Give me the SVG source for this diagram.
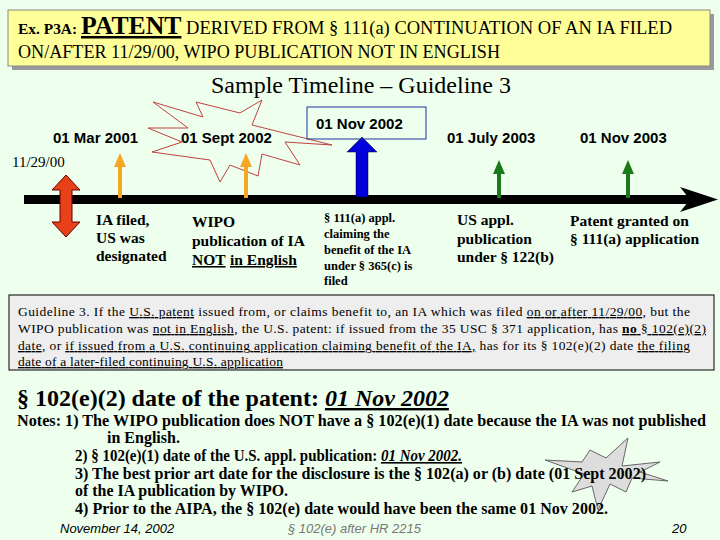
<svg xmlns="http://www.w3.org/2000/svg" width="720" height="540" viewBox="0 0 720 540">
<style>
.d{font-family:"Liberation Sans",Arial,sans-serif;font-weight:bold;font-size:15px;fill:#000}
.r{font-family:"Liberation Serif","Times New Roman",serif;fill:#000}
.l{font-family:"Liberation Serif","Times New Roman",serif;font-weight:bold;font-size:15.5px;fill:#000}
.s{font-family:"Liberation Serif","Times New Roman",serif;font-weight:bold;font-size:12.5px;fill:#000}
.g{font-family:"Liberation Serif","Times New Roman",serif;font-size:13.5px;fill:#000}
.n{font-family:"Liberation Serif","Times New Roman",serif;font-weight:bold;font-size:16px;fill:#000}
.f{font-family:"Liberation Sans",Arial,sans-serif;font-style:italic;font-size:13px}
</style>
<rect width="720" height="540" fill="#EEFFEE"/>
<g id="title">
<rect x="12" y="14" width="702" height="56" fill="#999"/>
<rect x="8" y="10" width="702" height="56" fill="#FFFF99" stroke="#888"/>
<text class="r" x="18" y="34" font-size="18" textLength="654" lengthAdjust="spacingAndGlyphs"><tspan font-weight="bold" font-size="15">Ex. P3A: </tspan><tspan font-weight="bold" font-size="25" text-decoration="underline">PATENT</tspan> DERIVED FROM § 111(a) CONTINUATION OF AN IA FILED</text>
<text class="r" x="18" y="58" font-size="18" textLength="482" lengthAdjust="spacingAndGlyphs">ON/AFTER 11/29/00, WIPO PUBLICATION NOT IN ENGLISH</text>
</g>
<text class="r" x="361" y="93" text-anchor="middle" font-size="24">Sample Timeline – Guideline 3</text>
<g id="burst1">
<polygon points="153,102 203,117 196,102 240,113 262,100 252,125 332,145 285,142 300,165 262,154 258,176 230,165 220,182 210,160 152,152 182,142 148,128 188,128" fill="#EEFFEE" stroke="#C04040" stroke-width="1"/>
</g>
<g id="connectors">
<rect x="24" y="195" width="668" height="9" fill="#000"/>
<polygon points="680,187 718,199.5 680,212 690,199.5" fill="#000"/>
<polygon points="66,175 80,190 72,190 72,222 80,222 66,237 52,222 60,222 60,190 52,190" fill="#E84018" stroke="#600" stroke-width="1"/>
<g fill="#F5A623">
<rect x="118" y="165" width="4" height="33"/><polygon points="114,167 120,153 126,167"/>
<rect x="244" y="165" width="4" height="33"/><polygon points="240,167 246,153 252,167"/>
</g>
<g fill="#0000DD" stroke="#000" stroke-width="0.5">
<polygon points="356,197 356,152 347,152 362,137 377,152 368,152 368,197"/>
</g>
<g fill="#1A7A1A">
<rect x="497" y="172" width="4" height="26"/><polygon points="493,174 499,160 505,174"/>
<rect x="626" y="172" width="4" height="26"/><polygon points="622,174 628,160 634,174"/>
</g>
</g>
<g id="n-ia">
<text class="d" x="53" y="143">01 Mar 2001</text>
<text class="r" x="12" y="167" font-size="15">11/29/00</text>
<text class="l" x="96" y="225">IA filed,</text><text class="l" x="96" y="243">US was</text><text class="l" x="96" y="261">designated</text>
</g>
<g id="n-wipo">
<text class="d" x="181" y="143">01 Sept 2002</text>
<text class="l" x="192" y="227">WIPO</text><text class="l" x="192" y="246">publication of IA</text>
<text class="l" x="192" y="265" fill="#C04020" text-decoration="underline">NOT</text><text class="l" x="230" y="265" fill="#C04020" text-decoration="underline">in English</text>
</g>
<g id="n-111">
<rect x="307" y="107" width="119" height="32" fill="none" stroke="#2030A0"/>
<text class="d" x="316" y="129">01 Nov 2002</text>
<text class="s" x="324" y="222">§ 111(a) appl.</text><text class="s" x="324" y="238">claiming the</text><text class="s" x="324" y="254">benefit of the IA</text><text class="s" x="324" y="270">under § 365(c) is</text><text class="s" x="324" y="285">filed</text>
</g>
<g id="n-pub">
<text class="d" x="447" y="143">01 July 2003</text>
<text class="l" x="457" y="225">US appl.</text><text class="l" x="457" y="244">publication</text><text class="l" x="457" y="262">under § 122(b)</text>
</g>
<g id="n-grant">
<text class="d" x="580" y="143">01 Nov 2003</text>
<text class="l" x="570" y="226">Patent granted on</text><text class="l" x="570" y="244">§ 111(a) application</text>
</g>
<g id="guideline">
<rect x="9" y="295" width="705" height="75" fill="#EEEEEE" stroke="#000"/>
<text class="g" x="18" y="316" textLength="672" lengthAdjust="spacing">Guideline 3. If the <tspan text-decoration="underline">U.S. patent</tspan> issued from, or claims benefit to, an IA which was filed <tspan text-decoration="underline">on or after 11/29/00</tspan>, but the</text>
<text class="g" x="18" y="333" textLength="688" lengthAdjust="spacing">WIPO publication was <tspan text-decoration="underline">not in English</tspan>, the U.S. patent:  if issued from the 35 USC § 371 application, has <tspan text-decoration="underline" font-weight="bold">no</tspan><tspan text-decoration="underline"> § 102(e)(2)</tspan></text>
<text class="g" x="18" y="350" textLength="672" lengthAdjust="spacing"><tspan text-decoration="underline">date</tspan>, or <tspan text-decoration="underline">if issued from a U.S. continuing application claiming benefit of the IA,</tspan> has for its  § 102(e)(2) date <tspan text-decoration="underline">the filing</tspan></text>
<text class="g" x="18" y="366" textLength="265" lengthAdjust="spacing" text-decoration="underline">date of a later-filed continuing U.S. application</text>
</g>
<text class="r" x="17" y="406" font-weight="bold" font-size="24">§ 102(e)(2) date of the patent: <tspan font-style="italic" text-decoration="underline">01 Nov 2002</tspan></text>
<g id="burst2">
<polygon points="545,460 582,462 590,450 606,458 628,438 622,466 660,462 640,472 668,481 632,478 626,492 610,484 598,510 592,486 572,492 584,474" fill="#DDDDDD" stroke="#666"/>
</g>
<g id="notes">
<text class="n" x="17" y="426" textLength="689" lengthAdjust="spacingAndGlyphs">Notes:  1) The WIPO publication does NOT have a § 102(e)(1) date because the IA was not published</text>
<text class="n" x="107" y="443">in English.</text>
<text class="n" x="75" y="461" textLength="387" lengthAdjust="spacingAndGlyphs">2) § 102(e)(1) date of the U.S. appl. publication: <tspan font-style="italic" text-decoration="underline">01 Nov 2002.</tspan></text>
<text class="n" x="75" y="479" textLength="571" lengthAdjust="spacingAndGlyphs">3) The best prior art date for the disclosure is the § 102(a) or (b) date  (01 Sept 2002)</text>
<text class="n" x="75" y="496" textLength="213" lengthAdjust="spacingAndGlyphs">of the IA publication by WIPO.</text>
<text class="n" x="75" y="514" textLength="533" lengthAdjust="spacingAndGlyphs">4) Prior to the AIPA, the § 102(e) date would have been the same  01 Nov 2002.</text>
</g>
<text class="f" x="60" y="533">November 14, 2002</text>
<text class="f" x="288" y="533" fill="#777">§ 102(e) after HR 2215</text>
<text class="f" x="672" y="533">20</text>
</svg>
